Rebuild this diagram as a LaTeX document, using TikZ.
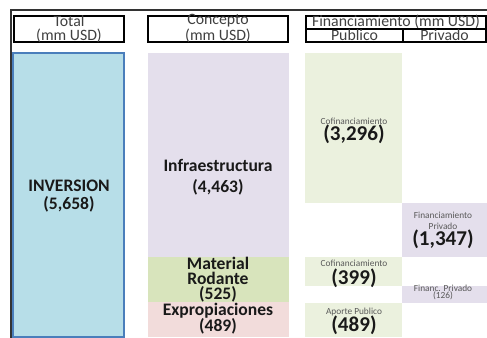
\documentclass[tikz,border=0pt]{standalone}
\usepackage{fontspec}
\setmainfont{Carlito}
\usetikzlibrary{fit}
\definecolor{azul}{HTML}{B7DEE8}
\definecolor{azulborde}{HTML}{4A7EBB}
\definecolor{lila}{HTML}{E4DFEC}
\definecolor{verde}{HTML}{D8E4BC}
\definecolor{verdeclaro}{HTML}{EBF1DE}
\definecolor{rosa}{HTML}{F2DCDB}
\definecolor{gristexto}{HTML}{404040}
\definecolor{grischico}{HTML}{595959}
\begin{document}
\begin{tikzpicture}[x=0.02cm, y=-0.02cm,
    hdr/.style={draw, line width=1pt, inner sep=0pt},
    blk/.style={inner sep=0pt, draw=none},
    htxt/.style={inner sep=0pt, text=gristexto, font=\fontsize{9}{9}\selectfont},
    grande/.style={inner sep=0pt, align=center, text=black!90, font=\bfseries\fontsize{10}{#1}\selectfont},
    chico/.style={inner sep=0pt, align=center, text=grischico, font=\fontsize{5.3}{6}\selectfont},
    cifra/.style={inner sep=0pt, text=black!90, font=\bfseries\fontsize{12}{12}\selectfont}]
  \useasboundingbox (0,0) rectangle (487,338);

  % marco
  \coordinate (m1) at (11,338);
  \coordinate (m2) at (11,10);
  \coordinate (m3) at (487,10);
  \draw[line width=1.1pt, black!80] (m1) -- (m2) -- (m3);

  % encabezados
  \node[hdr, fit={(14,16) (124,42)}] (htotal) {};
  \node[htxt] (t1) at (69,21) {Total};
  \node[htxt] (t2) at (69,36) {(mm USD)};
  \node[hdr, fit={(148,16) (288,42)}] (hconc) {};
  \node[htxt] (c1) at (218,21) {Concepto};
  \node[htxt] (c2) at (218,36) {(mm USD)};
  \node[hdr, fit={(306,16) (486,29)}] (hfin) {};
  \node[hdr, fit={(306,29) (403,42)}] (hpub) {};
  \node[hdr, fit={(403,29) (486,42)}] (hpriv) {};
  \node[htxt] (f1) at (396,22) {Financiamiento (mm USD)};
  \node[htxt] (f2) at (hpub) {Publico};
  \node[htxt] (f3) at (hpriv) {Privado};

  % total
  \node[blk, draw=azulborde, line width=1pt, fill=azul, fit={(13,53) (124,337)}] (inv) {};
  \node[grande=10.5pt] (invtxt) at (69,196) {INVERSION\\(5,658)};

  % concepto
  \node[blk, fill=lila, fit={(148,53) (289,257)}] (infra) {};
  \node[blk, fill=verde, fit={(148,257) (289,302)}] (mat) {};
  \node[blk, fill=rosa, fit={(148,302) (289,337)}] (exp) {};
  \node[grande=12pt] (infratxt) at (218,177) {Infraestructura\\(4,463)};
  \node[grande=8.5pt] (mattxt) at (218,280) {Material\\Rodante\\(525)};
  \node[grande=9pt] (exptxt) at (218,319) {Expropiaciones\\(489)};

  % financiamiento
  \node[blk, fill=verdeclaro, fit={(305,53) (402,203)}] (cof1) {};
  \node[blk, fill=lila, fit={(402,203) (487,257)}] (priv1) {};
  \node[blk, fill=verdeclaro, fit={(305,257) (402,286)}] (cof2) {};
  \node[blk, fill=lila, fit={(402,286) (487,303)}] (priv2) {};
  \node[blk, fill=verdeclaro, fit={(305,303) (402,337)}] (apo) {};

  \node[chico] (cof1a) at (354,121) {Cofinanciamiento};
  \node[cifra] (cof1b) at (354,134) {(3,296)};
  \node[chico] (priv1a) at (443,221) {Financiamiento\\Privado};
  \node[cifra] (priv1b) at (443,239) {(1,347)};
  \node[chico] (cof2a) at (354,263) {Cofinanciamiento};
  \node[cifra] (cof2b) at (354,278) {(399)};
  \node[chico] (priv2a) at (443,288) {Financ. Privado};
  \node[chico] (priv2b) at (443,296) {(126)};
  \node[chico] (apoa) at (354,312) {Aporte Publico};
  \node[cifra] (apob) at (354,325) {(489)};
\end{tikzpicture}
\end{document}
